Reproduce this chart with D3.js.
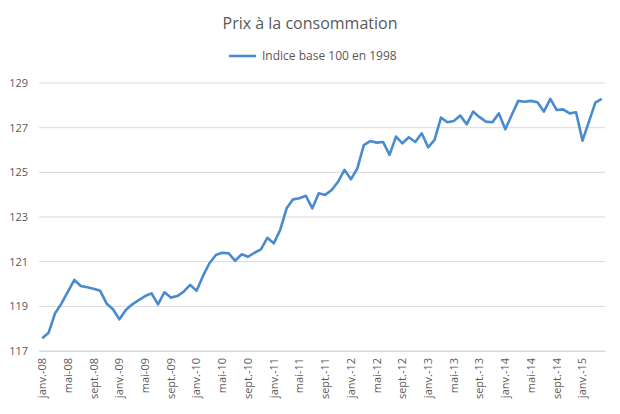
<!DOCTYPE html>
<html>
<head>
<meta charset="utf-8">
<script src="https://cdn.jsdelivr.net/npm/d3@7"></script>
<style>
  body { margin: 0; background: #fff; }
  svg { display: block; font-family: "Open Sans", sans-serif; }
</style>
</head>
<body>
<script>
// Monthly index, janv. 2008 -> avril 2015
const moisNoms = ["janv.", "févr.", "mars", "avr.", "mai", "juin", "juil.", "août", "sept.", "oct.", "nov.", "déc."];
const annees = [8, 9, 10, 11, 12, 13, 14, 15];
const valeurs = [
  117.57, 117.82, 118.69, 119.13, 119.66, 120.18, 119.91, 119.85, 119.79, 119.70, 119.13, 118.87,
  118.42, 118.84, 119.09, 119.28, 119.46, 119.58, 119.09, 119.63, 119.39, 119.46, 119.66, 119.96,
  119.70, 120.36, 120.93, 121.30, 121.40, 121.37, 121.04, 121.33, 121.22, 121.40, 121.55, 122.07,
  121.82, 122.42, 123.39, 123.79, 123.84, 123.95, 123.39, 124.06, 123.99, 124.21, 124.58, 125.11,
  124.69, 125.18, 126.22, 126.40, 126.33, 126.36, 125.78, 126.60, 126.30, 126.57, 126.36, 126.75,
  126.12, 126.45, 127.45, 127.24, 127.30, 127.54, 127.15, 127.72, 127.47, 127.27, 127.24, 127.64,
  126.93, 127.57, 128.20, 128.16, 128.20, 128.14, 127.72, 128.29, 127.79, 127.82, 127.64, 127.69,
  126.42, 127.27, 128.12, 128.29
];
const yTicks = [117, 119, 121, 123, 125, 127, 129];
const titre = "Prix à la consommation";
const serieNom = "Indice base 100 en 1998";

const mois = valeurs.map((v, i) => moisNoms[i % 12] + "-" + String(annees[Math.floor(i / 12)]).padStart(2, "0"));

const width = 620, height = 414;
const margin = { top: 83, right: 15, bottom: 63, left: 39 };

const svg = d3.select("body").append("svg")
  .attr("width", width)
  .attr("height", height);

const x = d3.scaleBand()
  .domain(mois)
  .range([margin.left, width - margin.right]);

const y = d3.scaleLinear()
  .domain([117, 129])
  .range([height - margin.bottom, margin.top]);

// Gridlines
svg.append("g")
  .selectAll("line")
  .data(yTicks)
  .join("line")
  .attr("x1", margin.left)
  .attr("x2", width - margin.right)
  .attr("y1", (d) => y(d))
  .attr("y2", (d) => y(d))
  .attr("stroke", "#d9d9d9")
  .attr("stroke-width", 1);

// Y axis labels
svg.append("g")
  .attr("transform", "translate(" + margin.left + ",0)")
  .call(d3.axisLeft(y).tickValues(yTicks).tickSize(0).tickPadding(11))
  .call((g) => g.select(".domain").remove())
  .call((g) => g.selectAll("text")
    .attr("fill", "#595959")
    .attr("font-size", 11)
    .attr("font-family", "Open Sans, sans-serif"));

// X axis, a label every 4 months
svg.append("g")
  .attr("transform", "translate(0," + (height - margin.bottom) + ")")
  .call(d3.axisBottom(x).tickValues(mois.filter((d, i) => i % 4 === 0)).tickSize(0))
  .call((g) => g.select(".domain").attr("stroke", "#d9d9d9"))
  .call((g) => g.selectAll("text")
    .attr("fill", "#595959")
    .attr("font-size", 11)
    .attr("font-family", "Open Sans, sans-serif")
    .attr("text-anchor", "end")
    .attr("dy", "0.35em")
    .attr("transform", "translate(0,7) rotate(-90)")
    .attr("x", 0)
    .attr("y", 0));

// Line
const line = d3.line()
  .x((d, i) => x(mois[i]) + x.bandwidth() / 2)
  .y((d) => y(d));

svg.append("path")
  .datum(valeurs)
  .attr("fill", "none")
  .attr("stroke", "#4a8bcf")
  .attr("stroke-width", 2.6)
  .attr("stroke-linejoin", "round")
  .attr("d", line);

// Title
svg.append("text")
  .attr("x", width / 2)
  .attr("y", 29)
  .attr("text-anchor", "middle")
  .attr("fill", "#595959")
  .attr("font-size", 16)
  .text(titre);

// Legend
const leg = svg.append("g").attr("transform", "translate(229,56)");
leg.append("line")
  .attr("x1", 0).attr("x2", 27)
  .attr("stroke", "#4a8bcf")
  .attr("stroke-width", 2.6);
leg.append("text")
  .attr("x", 33)
  .attr("dy", "0.35em")
  .attr("fill", "#595959")
  .attr("font-size", 12)
  .text(serieNom);
</script>
</body>
</html>
